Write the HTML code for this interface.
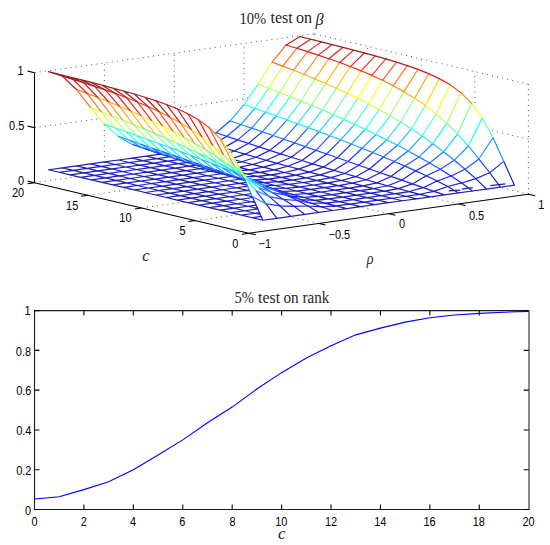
<!DOCTYPE html>
<html><head><meta charset="utf-8"><style>
html,body{margin:0;padding:0;background:#fff;}
body{width:550px;height:545px;overflow:hidden;}
svg{display:block;}
.tk{font-family:"Liberation Sans",sans-serif;font-size:12.3px;fill:#000;}
.ti{font-family:"Liberation Serif",serif;font-size:16px;fill:#262626;}
.it{font-style:italic;}
.lb{font-family:"Liberation Serif",serif;font-size:17px;font-style:italic;fill:#262626;}
</style></head><body>
<svg width="550" height="545" viewBox="0 0 550 545">
<rect width="550" height="545" fill="#fff"/>
<path d="M195.30 220.57L239.16 214.46M141.70 207.95L186.05 201.76M88.10 195.32L131.96 189.21M34.50 182.70L78.85 176.51M318.77 223.45L288.60 216.34M388.65 213.70L358.72 206.65M458.52 203.95L428.35 196.84M528.40 194.20L498.47 187.15M104.37 162.20L104.37 123.70M104.37 86.20L104.37 62.95M174.25 107.95L174.25 53.20M244.12 105.45L244.12 43.45M314.00 40.20L314.00 33.70M34.50 127.70L100.16 118.54M174.99 108.10L249.33 97.72M34.50 72.70L314.00 33.70M528.40 194.20L528.40 84.20M474.80 108.32L474.80 71.57M421.20 70.95L421.20 58.95M367.60 54.08L367.60 46.32M528.40 139.20L488.73 129.86M528.40 84.20L314.00 33.70" stroke="#555" stroke-width="1" stroke-dasharray="1 4.2" fill="none"/>
<g fill="none" stroke-width="1.2" stroke-linecap="round">
<path stroke="#1f1fb9" d="M262.88 220.25L276.85 218.30M262.88 220.25L252.16 217.72M252.16 217.72L261.39 216.44M252.16 217.72L241.44 215.20M241.44 215.20L255.41 213.25M241.44 215.20L230.72 212.67M230.72 212.67L244.69 210.72M230.72 212.67L220.00 210.15M220.00 210.15L233.97 208.20M220.00 210.15L209.28 207.62M209.28 207.62L223.25 205.67M209.28 207.62L198.56 205.10M198.56 205.10L212.53 203.15M198.56 205.10L187.84 202.57M187.84 202.57L201.81 200.62M187.84 202.57L177.12 200.05M177.12 200.05L191.09 198.10M177.12 200.05L166.39 197.52M166.39 197.52L180.37 195.57M166.39 197.52L155.68 195.00M155.68 195.00L169.65 193.05M155.68 195.00L144.95 192.47M144.95 192.47L158.93 190.52M144.95 192.47L134.24 189.95M134.24 189.95L148.21 188.00M134.24 189.95L123.51 187.42M123.51 187.42L137.49 185.47M123.51 187.42L112.80 184.90M112.80 184.90L126.77 182.95M112.80 184.90L102.07 182.37M102.07 182.37L116.05 180.42M102.07 182.37L91.35 179.85M91.35 179.85L105.33 177.90M91.35 179.85L80.63 177.32M80.63 177.32L94.61 175.37M80.63 177.32L69.91 174.80M69.91 174.80L83.89 172.85M69.91 174.80L59.19 172.27M59.19 172.27L73.17 170.32M59.19 172.27L48.47 169.75M48.47 169.75L62.45 167.80M276.85 218.30L290.82 216.35M276.85 218.30L276.12 218.13M260.28 214.40L255.41 213.25M255.41 213.25L259.65 212.66M255.41 213.25L244.69 210.72M244.69 210.72L257.92 208.88M244.69 210.72L233.97 208.20M233.97 208.20L247.94 206.25M233.97 208.20L223.25 205.67M223.25 205.67L237.22 203.72M223.25 205.67L212.53 203.15M212.53 203.15L226.50 201.20M212.53 203.15L201.81 200.62M201.81 200.62L215.78 198.67M201.81 200.62L191.09 198.10M191.09 198.10L205.06 196.15M191.09 198.10L180.37 195.57M180.37 195.57L194.34 193.62M180.37 195.57L169.65 193.05M169.65 193.05L183.62 191.10M169.65 193.05L158.93 190.52M158.93 190.52L172.90 188.57M158.93 190.52L148.21 188.00M148.21 188.00L162.19 186.05M148.21 188.00L137.49 185.47M137.49 185.47L151.46 183.52M137.49 185.47L126.77 182.95M126.77 182.95L140.75 181.00M126.77 182.95L116.05 180.42M116.05 180.42L130.02 178.47M116.05 180.42L105.33 177.90M105.33 177.90L119.30 175.95M105.33 177.90L94.61 175.37M94.61 175.37L108.58 173.42M94.61 175.37L83.89 172.85M83.89 172.85L97.86 170.90M83.89 172.85L73.17 170.32M73.17 170.32L87.14 168.37M73.17 170.32L62.45 167.80M62.45 167.80L76.42 165.85M290.82 216.35L304.80 214.40M290.82 216.35L290.34 216.24M257.93 208.60L247.94 206.25M247.94 206.25L256.43 205.07M247.94 206.25L237.22 203.72M237.22 203.72L251.20 201.77M237.22 203.72L226.50 201.20M226.50 201.20L240.48 199.25M226.50 201.20L215.78 198.67M215.78 198.67L229.76 196.72M215.78 198.67L205.06 196.15M205.06 196.15L219.04 194.20M205.06 196.15L194.34 193.62M194.34 193.62L208.32 191.67M194.34 193.62L183.62 191.10M183.62 191.10L197.60 189.15M183.62 191.10L172.90 188.57M172.90 188.57L186.88 186.62M172.90 188.57L162.19 186.05M162.19 186.05L176.16 184.10M162.19 186.05L151.46 183.52M151.46 183.52L165.44 181.57M151.46 183.52L140.75 181.00M140.75 181.00L154.72 179.05M140.75 181.00L130.02 178.47M130.02 178.47L144.00 176.52M130.02 178.47L119.30 175.95M119.30 175.95L133.28 174.00M119.30 175.95L108.58 173.42M108.58 173.42L122.56 171.47M108.58 173.42L97.86 170.90M97.86 170.90L111.84 168.95M97.86 170.90L87.14 168.37M87.14 168.37L101.12 166.42M87.14 168.37L76.42 165.85M76.42 165.85L90.40 163.90M304.80 214.40L318.77 212.45M304.80 214.40L304.07 214.23M255.34 202.75L251.20 201.77M251.20 201.77L254.69 201.29M251.20 201.77L240.48 199.25M240.48 199.25L252.96 197.51M240.48 199.25L229.76 196.72M229.76 196.72L243.73 194.77M229.76 196.72L219.04 194.20M219.04 194.20L233.01 192.25M219.04 194.20L208.32 191.67M208.32 191.67L222.29 189.72M208.32 191.67L197.60 189.15M197.60 189.15L211.57 187.20M197.60 189.15L186.88 186.62M186.88 186.62L200.85 184.67M186.88 186.62L176.16 184.10M176.16 184.10L190.13 182.15M176.16 184.10L165.44 181.57M165.44 181.57L179.41 179.62M165.44 181.57L154.72 179.05M154.72 179.05L168.69 177.10M154.72 179.05L144.00 176.52M144.00 176.52L157.97 174.57M144.00 176.52L133.28 174.00M133.28 174.00L147.25 172.05M133.28 174.00L122.56 171.47M122.56 171.47L136.53 169.52M122.56 171.47L111.84 168.95M111.84 168.95L125.81 167.00M111.84 168.95L101.12 166.42M101.12 166.42L115.09 164.47M101.12 166.42L90.40 163.90M90.40 163.90L104.37 161.95M318.77 212.45L332.75 210.50M318.77 212.45L317.80 212.22M252.75 196.90L243.73 194.77M243.73 194.77L251.22 193.73M243.73 194.77L233.01 192.25M233.01 192.25L246.99 190.30M233.01 192.25L222.29 189.72M222.29 189.72L236.27 187.77M222.29 189.72L211.57 187.20M211.57 187.20L225.55 185.25M211.57 187.20L200.85 184.67M200.85 184.67L214.83 182.72M200.85 184.67L190.13 182.15M190.13 182.15L204.11 180.20M190.13 182.15L179.41 179.62M179.41 179.62L193.39 177.67M179.41 179.62L168.69 177.10M168.69 177.10L182.67 175.15M168.69 177.10L157.97 174.57M157.97 174.57L171.95 172.62M157.97 174.57L147.25 172.05M147.25 172.05L161.23 170.10M147.25 172.05L136.53 169.52M136.53 169.52L150.51 167.57M136.53 169.52L125.81 167.00M125.81 167.00L139.79 165.05M125.81 167.00L115.09 164.47M115.09 164.47L129.07 162.52M115.09 164.47L104.37 161.95M104.37 161.95L118.35 160.00M332.75 210.50L346.73 208.55M332.75 210.50L330.07 209.87M332.76 206.48L333.76 206.34M334.51 206.23L336.00 206.02M249.91 190.99L246.99 190.30M246.99 190.30L249.49 189.95M246.99 190.30L236.27 187.77M236.27 187.77L247.75 186.17M236.27 187.77L225.55 185.25M225.55 185.25L239.53 183.30M225.55 185.25L214.83 182.72M214.83 182.72L228.81 180.77M214.83 182.72L204.11 180.20M204.11 180.20L218.09 178.25M204.11 180.20L193.39 177.67M193.39 177.67L207.37 175.72M193.39 177.67L182.67 175.15M182.67 175.15L196.65 173.20M182.67 175.15L171.95 172.62M171.95 172.62L185.93 170.67M171.95 172.62L161.23 170.10M161.23 170.10L175.21 168.15M161.23 170.10L150.51 167.57M150.51 167.57L164.49 165.62M150.51 167.57L139.79 165.05M139.79 165.05L153.77 163.10M139.79 165.05L129.07 162.52M129.07 162.52L143.05 160.57M129.07 162.52L118.35 160.00M118.35 160.00L132.33 158.05M346.73 208.55L360.70 206.60M346.73 208.55L336.00 206.02M336.00 206.02L349.98 204.07M336.00 206.02L330.89 204.82M330.40 204.71L329.91 204.59M329.43 204.48L328.94 204.36M328.45 204.25L327.97 204.13M327.23 203.96L326.99 203.90M326.26 203.73L326.02 203.67M325.29 203.50L325.78 203.43M327.28 203.22L328.03 203.12M329.03 202.98L330.03 202.84M330.78 202.73L339.26 201.55M325.29 203.50L325.04 203.44M321.55 200.00L321.80 199.97M323.55 199.72L324.30 199.62M325.30 199.48L328.54 199.02M316.07 196.74L317.32 196.57M247.32 185.14L239.53 183.30M239.53 183.30L246.01 182.39M239.53 183.30L228.81 180.77M228.81 180.77L241.28 179.03M228.81 180.77L218.09 178.25M218.09 178.25L232.06 176.30M218.09 178.25L207.37 175.72M207.37 175.72L221.34 173.77M207.37 175.72L196.65 173.20M196.65 173.20L210.62 171.25M196.65 173.20L185.93 170.67M185.93 170.67L199.90 168.72M185.93 170.67L175.21 168.15M175.21 168.15L189.18 166.20M175.21 168.15L164.49 165.62M164.49 165.62L178.46 163.67M164.49 165.62L153.77 163.10M153.77 163.10L167.74 161.15M153.77 163.10L143.05 160.57M143.05 160.57L157.02 158.62M143.05 160.57L132.33 158.05M132.33 158.05L146.30 156.10M360.70 206.60L374.68 204.65M360.70 206.60L349.98 204.07M349.98 204.07L363.95 202.12M349.98 204.07L339.26 201.55M339.26 201.55L353.24 199.60M339.26 201.55L328.54 199.02M328.54 199.02L342.51 197.07M328.54 199.02L320.26 197.07M319.77 196.96L317.82 196.50M317.82 196.50L319.32 196.29M319.82 196.22L331.80 194.55M317.82 196.50L317.09 196.33M316.60 196.21L316.11 196.10M315.63 195.98L315.14 195.87M314.41 195.70L314.17 195.64M313.43 195.47L313.19 195.41M312.46 195.24L311.97 195.12M311.24 194.95L311.00 194.89M310.27 194.72L310.02 194.66M309.29 194.49L309.05 194.43M307.10 193.97L307.35 193.94M308.85 193.73L309.60 193.63M310.59 193.49L311.59 193.35M312.34 193.24L313.59 193.07M314.09 193.00L321.07 192.02M301.62 190.72L301.87 190.68M303.37 190.47L304.12 190.37M305.11 190.23L306.36 190.06M306.86 189.99L310.36 189.50M294.14 187.74L294.39 187.71M295.89 187.50L296.89 187.36M297.89 187.22L299.63 186.97M286.92 184.73L287.67 184.62M288.67 184.48L288.92 184.45M277.70 181.99L278.19 181.92M232.30 176.36L232.06 176.30M231.57 176.19L221.34 173.77M221.34 173.77L223.09 173.53M221.34 173.77L210.62 171.25M210.62 171.25L214.11 170.76M210.62 171.25L199.90 168.72M199.90 168.72L205.14 167.99M199.90 168.72L189.18 166.20M189.18 166.20L196.42 165.19M189.18 166.20L178.46 163.67M178.46 163.67L187.94 162.35M178.46 163.67L167.74 161.15M167.74 161.15L179.22 159.55M167.74 161.15L157.02 158.62M157.02 158.62L170.25 156.78M157.02 158.62L146.30 156.10M146.30 156.10L160.28 154.15M374.68 204.65L388.65 202.70M374.68 204.65L363.95 202.12M363.95 202.12L377.93 200.17M363.95 202.12L353.24 199.60M353.24 199.60L367.21 197.65M353.24 199.60L342.51 197.07M342.51 197.07L356.49 195.12M342.51 197.07L331.80 194.55M331.80 194.55L345.77 192.60M331.80 194.55L321.07 192.02M321.07 192.02L335.05 190.07M321.07 192.02L310.36 189.50M310.36 189.50L324.33 187.55M310.36 189.50L299.63 186.97M299.63 186.97L313.61 185.02M299.63 186.97L292.57 185.31M292.08 185.20L291.60 185.08M291.11 184.97L289.40 184.56M288.92 184.45L289.91 184.31M290.41 184.24L302.89 182.50M288.92 184.45L288.43 184.34M287.94 184.22L287.45 184.11M286.97 183.99L286.48 183.88M285.75 183.70L285.26 183.59M284.77 183.47L284.29 183.36M283.80 183.24L283.31 183.13M282.58 182.96L282.34 182.90M281.61 182.73L281.12 182.61M280.63 182.50L280.14 182.38M279.41 182.21L279.17 182.15M278.44 181.98L278.19 181.92M278.19 181.92L278.44 181.89M279.69 181.72L280.44 181.61M281.44 181.47L282.69 181.30M283.19 181.23L292.17 179.97M277.22 181.70L276.98 181.64M276.25 181.47L276.00 181.41M275.27 181.24L275.03 181.18M272.10 180.49L271.86 180.43M268.72 179.23L268.97 179.19M270.47 178.98L271.22 178.88M272.22 178.74L273.21 178.60M273.96 178.49L275.46 178.29M275.96 178.22L281.45 177.45M261.25 176.25L261.75 176.18M263.24 175.97L264.24 175.83M264.99 175.73L270.73 174.92M252.27 173.48L252.52 173.44M254.02 173.24L255.27 173.06M255.77 172.99L260.01 172.40M243.05 170.75L243.55 170.68M245.05 170.47L249.29 169.87M167.58 155.87L160.28 154.15M160.28 154.15L161.52 153.98M388.65 202.70L402.62 200.75M388.65 202.70L377.93 200.17M377.93 200.17L391.90 198.22M377.93 200.17L367.21 197.65M367.21 197.65L381.19 195.70M367.21 197.65L356.49 195.12M356.49 195.12L370.47 193.16M356.49 195.12L345.77 192.60M345.77 192.60L359.75 190.62M345.77 192.60L335.05 190.07M335.05 190.07L349.02 188.08M335.05 190.07L324.33 187.55M324.33 187.55L338.31 185.52M324.33 187.55L313.61 185.02M313.61 185.02L327.59 182.95M313.61 185.02L302.89 182.50M302.89 182.50L316.87 180.36M302.89 182.50L292.17 179.97M292.17 179.97L306.14 177.76M292.17 179.97L281.45 177.45M281.45 177.45L295.43 175.14M281.45 177.45L270.73 174.92M270.73 174.92L284.70 172.51M270.73 174.92L260.01 172.40M260.01 172.40L273.99 169.85M260.01 172.40L249.29 169.87M249.29 169.87L263.26 167.17M249.29 169.87L238.81 167.41M238.82 167.30L252.55 164.47M236.19 162.99L241.82 161.75M402.62 200.75L416.60 198.80M402.62 200.75L391.90 198.22M391.90 198.22L405.88 196.27M391.90 198.22L381.19 195.70M381.19 195.70L395.16 193.71M381.19 195.70L370.47 193.16M370.47 193.16L384.44 191.13M370.47 193.16L359.75 190.62M359.75 190.62L373.72 188.51M359.75 190.62L349.02 188.08M349.02 188.08L363.00 185.87M349.02 188.08L338.31 185.52M338.31 185.52L352.28 183.18M338.31 185.52L327.59 182.95M327.59 182.95L341.56 180.46M327.59 182.95L316.87 180.36M316.87 180.36L330.84 177.70M316.87 180.36L306.14 177.76M306.14 177.76L320.12 174.90M306.14 177.76L295.43 175.14M295.43 175.14L309.40 172.06M295.43 175.14L284.70 172.51M284.70 172.51L298.68 169.18M284.70 172.51L273.99 169.85M273.99 169.85L287.96 166.26M273.99 169.85L263.26 167.17M263.26 167.17L277.24 163.30M263.26 167.17L252.55 164.47M252.55 164.47L266.52 160.30M252.55 164.47L241.82 161.75M416.60 198.80L430.58 196.85M416.60 198.80L405.88 196.27M405.88 196.27L419.86 194.24M405.88 196.27L395.16 193.71M395.16 193.71L409.14 191.50M395.16 193.71L384.44 191.13M384.44 191.13L398.42 188.67M384.44 191.13L373.72 188.51M373.72 188.51L387.70 185.77M373.72 188.51L363.00 185.87M363.00 185.87L376.98 182.80M363.00 185.87L352.28 183.18M352.28 183.18L366.26 179.77M352.28 183.18L341.56 180.46M341.56 180.46L355.54 176.68M341.56 180.46L330.84 177.70M330.84 177.70L344.82 173.54M330.84 177.70L320.12 174.90M430.58 196.85L444.55 194.90M430.58 196.85L419.86 194.24M419.86 194.24L433.83 191.37M419.86 194.24L409.14 191.50M409.14 191.50L423.11 187.67M409.14 191.50L398.42 188.67M398.42 188.67L412.39 183.94M398.42 188.67L387.70 185.77M444.55 194.90L458.52 192.95M444.55 194.90L433.83 191.37M458.52 192.95L472.50 191.00M458.52 192.95L447.80 186.50M472.50 191.00L486.48 189.05M472.50 191.00L461.78 182.95M486.48 189.05L500.45 187.10M486.48 189.05L475.75 178.66M500.45 187.10L514.42 185.15M500.45 187.10L489.73 172.75M514.42 185.15L503.70 161.35M262.88 220.25L276.85 218.30M262.88 220.25L252.16 196.45M276.85 218.30L290.82 216.35M276.85 218.30L266.13 203.95M290.82 216.35L304.80 214.40M290.82 216.35L280.10 205.96M304.80 214.40L318.77 212.45M304.80 214.40L294.08 206.35M318.77 212.45L332.75 210.50M318.77 212.45L308.05 206.00M332.75 210.50L346.73 208.55M332.75 210.50L322.03 206.97M346.73 208.55L360.70 206.60M346.73 208.55L336.00 205.94M336.00 205.94L349.98 204.07M336.00 205.94L325.29 203.20M325.29 203.20L339.26 201.51M325.29 203.20L314.57 200.37M314.57 200.37L328.54 198.93M314.57 200.37L303.85 197.47M360.70 206.60L374.68 204.65M360.70 206.60L349.98 204.07M349.98 204.07L363.95 202.12M349.98 204.07L339.26 201.51M339.26 201.51L353.24 199.60M339.26 201.51L328.54 198.93M328.54 198.93L342.51 197.06M328.54 198.93L317.82 196.31M317.82 196.31L331.80 194.52M317.82 196.31L307.10 193.67M307.10 193.67L321.07 191.98M307.10 193.67L296.38 190.98M296.38 190.98L310.36 189.42M296.38 190.98L285.66 188.26M285.66 188.26L299.63 186.85M285.66 188.26L274.94 185.50M274.94 185.50L288.92 184.26M274.94 185.50L264.22 182.70M374.68 204.65L388.65 202.70M374.68 204.65L363.95 202.12M363.95 202.12L377.93 200.17M363.95 202.12L353.24 199.60M353.24 199.60L367.21 197.65M353.24 199.60L342.51 197.06M342.51 197.06L356.49 195.12M342.51 197.06L331.80 194.52M331.80 194.52L345.77 192.60M331.80 194.52L321.07 191.98M321.07 191.98L335.05 190.07M321.07 191.98L310.36 189.42M310.36 189.42L324.33 187.55M310.36 189.42L299.63 186.85M299.63 186.85L313.61 185.02M299.63 186.85L288.92 184.26M288.92 184.26L302.89 182.50M288.92 184.26L278.19 181.66M278.19 181.66L292.17 179.97M278.19 181.66L267.48 179.04M267.48 179.04L281.45 177.45M267.48 179.04L256.75 176.41M256.75 176.41L270.73 174.92M256.75 176.41L246.04 173.75M246.04 173.75L260.01 172.40M246.04 173.75L241.89 172.72M240.56 170.62L249.29 169.87M388.65 202.70L402.62 200.75M388.65 202.70L377.93 200.17M377.93 200.17L391.90 198.22M377.93 200.17L367.21 197.65M367.21 197.65L381.19 195.70M367.21 197.65L356.49 195.12M356.49 195.12L370.47 193.17M356.49 195.12L345.77 192.60M345.77 192.60L359.75 190.65M345.77 192.60L335.05 190.07M335.05 190.07L349.02 188.12M335.05 190.07L324.33 187.55M324.33 187.55L338.31 185.60M324.33 187.55L313.61 185.02M313.61 185.02L327.59 183.07M313.61 185.02L302.89 182.50M302.89 182.50L313.37 181.04M313.87 180.97L315.12 180.79M315.62 180.72L316.87 180.55M302.89 182.50L292.17 179.97M292.17 179.97L300.65 178.79M301.15 178.72L302.15 178.58M302.90 178.48L303.90 178.34M304.65 178.23L305.40 178.13M292.17 179.97L281.45 177.45M281.45 177.45L287.94 176.54M288.44 176.47L289.44 176.34M290.18 176.23L290.93 176.13M291.93 175.99L292.43 175.92M293.68 175.74L293.93 175.71M281.45 177.45L270.73 174.92M270.73 174.92L276.72 174.09M277.47 173.98L278.22 173.88M279.21 173.74L279.71 173.67M270.73 174.92L260.01 172.40M260.01 172.40L264.25 171.81M264.75 171.74L265.50 171.63M266.50 171.49L267.00 171.42M260.01 172.40L249.29 169.87M249.29 169.87L253.03 169.35M253.78 169.25L254.53 169.14M249.29 169.87L238.81 167.41M238.82 167.32L240.82 167.04M241.32 166.97L242.06 166.86M243.06 166.72L243.31 166.69M402.62 200.75L416.60 198.80M402.62 200.75L391.90 198.22M391.90 198.22L405.88 196.27M391.90 198.22L381.19 195.70M381.19 195.70L395.16 193.75M381.19 195.70L370.47 193.17M370.47 193.17L384.44 191.22M370.47 193.17L359.75 190.65M359.75 190.65L371.22 189.05M371.72 188.98L372.97 188.80M373.47 188.73L373.72 188.70M359.75 190.65L349.02 188.12M349.02 188.12L355.01 187.29M355.51 187.22L356.51 187.08M357.26 186.98L358.26 186.84M359.01 186.73L359.76 186.63M360.75 186.49L361.25 186.42M362.50 186.24L362.75 186.21M349.02 188.12L338.31 185.60M338.31 185.60L340.55 185.29M341.05 185.22L342.05 185.08M342.80 184.97L343.55 184.87M344.54 184.73L345.04 184.66M346.29 184.49L346.54 184.45M338.31 185.60L327.59 183.07M327.59 183.07L329.33 182.83M330.08 182.73L330.83 182.62M331.83 182.48L332.08 182.45M327.59 183.07L325.39 182.56M324.91 182.44L322.23 181.81M321.74 181.70L321.25 181.58M320.76 181.47L319.06 181.07M318.57 180.95L318.08 180.84M317.60 180.72L316.87 180.55M317.36 180.48L318.11 180.38M319.11 180.24L319.36 180.20M316.87 180.55L315.89 180.32M315.40 180.21L314.92 180.09M314.43 179.98L313.94 179.86M313.45 179.75L312.97 179.63M312.24 179.46L311.75 179.34M311.26 179.23L310.77 179.12M310.04 178.94L309.80 178.89M309.07 178.71L308.82 178.66M308.09 178.48L307.61 178.37M306.88 178.20L306.63 178.14M306.39 177.99L306.89 177.92M305.90 177.97L305.66 177.91M304.93 177.74L304.68 177.68M302.73 177.22L302.49 177.16M301.76 176.99L301.52 176.93M416.60 198.80L430.58 196.85M416.60 198.80L405.88 196.27M405.88 196.27L419.86 194.32M405.88 196.27L395.16 193.75M395.16 193.75L401.90 192.81M402.40 192.74L403.64 192.57M404.14 192.50L405.14 192.36M406.14 192.22L406.64 192.15M407.89 191.97L408.39 191.90M395.16 193.75L384.44 191.22M384.44 191.22L387.19 190.84M387.93 190.74L388.68 190.63M389.68 190.49L390.18 190.42M384.44 191.22L377.37 189.56M376.89 189.45L376.40 189.33M375.91 189.22L374.21 188.81M373.72 188.70L374.47 188.60M375.22 188.49L375.72 188.42M373.72 188.70L373.23 188.59M372.75 188.47L372.26 188.36M371.77 188.24L371.28 188.13M370.55 187.95L370.31 187.90M369.58 187.72L369.09 187.61M368.60 187.49L368.12 187.38M367.39 187.21L367.14 187.15M366.41 186.98L366.17 186.92M365.44 186.75L365.19 186.69M430.58 196.85L444.55 194.90M430.58 196.85L419.86 194.32M419.86 194.32L421.60 194.08M422.35 193.98L422.85 193.91M419.86 194.32L414.50 193.06M414.01 192.95L413.52 192.83M413.03 192.72L412.55 192.60M412.06 192.49L411.57 192.37M410.84 192.20L410.60 192.14M409.87 191.97L409.62 191.91M408.89 191.74L408.65 191.69M444.55 194.90L458.52 192.95M444.55 194.90L442.36 194.38M458.52 192.95L472.50 191.00M458.52 192.95L457.55 192.72M472.50 191.00L486.48 189.05M472.50 191.00L471.53 190.77M486.48 189.05L500.45 187.10M486.48 189.05L485.99 188.94M500.45 187.10L514.42 185.15M500.45 187.10L500.21 187.04M514.42 185.15L513.94 185.04"/>
<path stroke="#1f1fc7" d="M241.82 161.75L255.80 157.26M241.82 161.75L234.27 159.81M233.47 158.18L245.08 154.17M230.10 152.62L234.36 151.03M320.12 174.90L334.10 170.36M320.12 174.90L309.40 172.06M309.40 172.06L323.38 167.13M309.40 172.06L298.68 169.18M298.68 169.18L312.66 163.86M298.68 169.18L287.96 166.26M287.96 166.26L301.94 160.55M287.96 166.26L277.24 163.30M387.70 185.77L401.67 180.19M387.70 185.77L376.98 182.80M376.98 182.80L390.95 176.44M376.98 182.80L366.26 179.77M366.26 179.77L380.23 172.70M366.26 179.77L355.54 176.68M355.54 176.68L369.51 168.96M355.54 176.68L344.82 173.54M433.83 191.37L447.80 186.50M433.83 191.37L423.11 187.67M423.11 187.67L437.08 180.99M423.11 187.67L412.39 183.94M322.03 206.97L336.00 205.94M322.03 206.97L311.31 203.27M311.31 203.27L325.29 203.20M311.31 203.27L300.59 199.54M303.85 197.47L317.82 196.31M303.85 197.47L293.12 194.50M293.12 194.50L307.10 193.67M293.12 194.50L282.41 191.47M282.41 191.47L296.38 190.98M282.41 191.47L271.69 188.38M271.69 188.38L285.66 188.26M271.69 188.38L269.01 187.60M268.52 187.45L268.27 187.38M264.22 182.70L278.19 181.66M264.22 182.70L253.50 179.86M253.50 179.86L267.48 179.04M253.50 179.86L248.87 178.62M245.58 176.87L256.75 176.41M242.73 173.82L246.04 173.75"/>
<path stroke="#1f1fd5" d="M277.24 163.30L291.22 157.20M277.24 163.30L266.52 160.30M266.52 160.30L280.50 153.81M266.52 160.30L255.80 157.26M255.80 157.26L269.78 150.38M255.80 157.26L245.08 154.17M344.82 173.54L358.79 165.22M344.82 173.54L334.10 170.36M334.10 170.36L348.07 161.49M334.10 170.36L323.38 167.13M412.39 183.94L426.37 175.82M412.39 183.94L401.67 180.19M447.80 186.50L461.78 182.95M447.80 186.50L437.08 180.99M308.05 206.00L322.03 206.97M308.05 206.00L297.33 200.49M300.59 199.54L314.57 200.37M300.59 199.54L289.87 195.79M263.76 185.30L274.94 185.50M257.11 182.37L264.22 182.70M245.37 180.59L239.53 178.83"/>
<path stroke="#1f1fe3" d="M245.08 154.17L259.06 146.92M245.08 154.17L234.36 151.03M234.36 151.03L248.34 143.42M234.36 151.03L227.29 148.94M225.82 146.61L237.62 139.89M323.38 167.13L337.35 157.76M323.38 167.13L312.66 163.86M312.66 163.86L326.63 154.04M312.66 163.86L301.94 160.55M401.67 180.19L415.64 170.87M401.67 180.19L390.95 176.44M461.78 182.95L475.75 178.66M461.78 182.95L451.06 175.94M294.08 206.35L308.05 206.00M294.08 206.35L283.36 199.34M289.87 195.79L303.85 197.47M289.87 195.79L283.68 193.63M283.20 193.46L282.96 193.38M282.49 193.21L281.53 192.88M281.06 192.71L280.82 192.63M239.53 178.83L240.52 178.91M250.75 179.66L253.50 179.86M239.53 178.83L228.81 175.56M228.81 175.56L229.80 175.66M228.81 175.56L218.09 172.25M161.65 153.83L161.41 153.75M160.92 153.61L160.67 153.53M160.19 153.39L159.94 153.31M159.46 153.17L157.02 152.44"/>
<path stroke="#1f1ff1" d="M220.88 139.90L226.90 136.32M214.89 133.53L216.18 132.73M301.94 160.55L315.91 150.33M301.94 160.55L291.22 157.20M291.22 157.20L305.19 146.62M291.22 157.20L280.50 153.81M390.95 176.44L404.92 166.10M390.95 176.44L380.23 172.70M380.23 172.70L394.20 161.47M380.23 172.70L369.51 168.96M437.08 180.99L451.06 175.94M437.08 180.99L426.37 175.82M297.33 200.49L311.31 203.27M297.33 200.49L286.62 195.32M279.65 192.13L293.12 194.50M272.35 189.19L282.41 191.47M218.09 172.25L219.33 172.41M218.09 172.25L207.37 168.90M207.37 168.90L209.11 169.17M209.61 169.25L209.86 169.29M207.37 168.90L196.65 165.51M157.52 152.51L157.77 152.54M157.02 152.44L146.30 149.17M146.30 149.17L147.80 149.43M148.30 149.52L148.55 149.56"/>
<path stroke="#1f1fff" d="M280.50 153.81L294.47 142.92M280.50 153.81L269.78 150.38M269.78 150.38L283.75 139.22M269.78 150.38L259.06 146.92M369.51 168.96L383.49 156.96M369.51 168.96L358.79 165.22M475.75 178.66L489.73 172.75M475.75 178.66L465.04 169.28M280.10 205.96L294.08 206.35M280.10 205.96L269.38 196.58M269.72 187.84L271.69 188.38M196.65 165.51L198.64 165.88M199.39 166.02L199.64 166.06M196.65 165.51L185.93 162.08M185.93 162.08L188.62 162.65M189.11 162.76L189.36 162.81M185.93 162.08L175.21 158.62"/>
<path stroke="#1f2dff" d="M259.06 146.92L273.03 135.53M259.06 146.92L248.34 143.42M248.34 143.42L262.31 131.85M248.34 143.42L237.62 139.89M358.79 165.22L372.76 152.55M358.79 165.22L348.07 161.49M426.37 175.82L440.34 169.31M426.37 175.82L415.64 170.87M451.06 175.94L465.04 169.28M451.06 175.94L440.34 169.31M283.36 199.34L297.33 200.49M283.36 199.34L272.64 192.71M286.62 195.32L300.59 199.54M286.62 195.32L275.89 190.37M245.08 180.16L236.27 177.09M175.21 158.62L178.39 159.38M175.21 158.62L164.49 155.12M164.49 155.12L168.41 156.16M168.90 156.29L169.14 156.36M164.49 155.12L153.77 151.59"/>
<path stroke="#1f3bff" d="M237.62 139.89L251.59 128.16M237.62 139.89L226.90 136.32M348.07 161.49L362.04 148.22M348.07 161.49L337.35 157.76M337.35 157.76L351.32 143.98M337.35 157.76L326.63 154.04M415.64 170.87L429.62 162.97M415.64 170.87L404.92 166.10M489.73 172.75L503.70 161.35M489.73 172.75L479.01 159.02M266.13 203.95L280.10 205.96M266.13 203.95L255.41 190.22M275.89 190.37L289.87 195.79M275.89 190.37L265.17 185.60M236.27 177.09L245.03 180.21M236.27 177.09L225.55 173.36M225.55 173.36L239.53 178.83M225.55 173.36L214.83 169.64M153.77 151.59L160.03 153.41M160.51 153.55L161.72 153.90M162.20 154.04L162.44 154.11M162.92 154.25L163.16 154.32M153.77 151.59L143.05 148.02"/>
<path stroke="#1f49ff" d="M226.90 136.32L240.87 124.49M226.90 136.32L216.18 132.73M216.18 132.73L230.15 120.82M326.63 154.04L340.60 139.80M326.63 154.04L315.91 150.33M214.83 169.64L228.81 175.56M214.83 169.64L204.11 165.93M143.05 148.02L157.02 152.44M143.05 148.02L132.33 144.43M132.33 144.43L146.30 149.17"/>
<path stroke="#1f57ff" d="M315.91 150.33L329.88 135.69M315.91 150.33L305.19 146.62M404.92 166.10L418.90 156.88M404.92 166.10L394.20 161.47M440.34 169.31L454.32 160.30M440.34 169.31L429.62 162.97M465.04 169.28L479.01 159.02M465.04 169.28L454.32 160.30M269.38 196.58L283.36 199.34M269.38 196.58L258.66 187.60M272.64 192.71L286.62 195.32M272.64 192.71L261.92 186.37M265.17 185.60L277.78 191.41M265.17 185.60L254.45 180.97M204.11 165.93L218.09 172.25M204.11 165.93L193.39 162.22"/>
<path stroke="#1f65ff" d="M305.19 146.62L319.16 131.64M305.19 146.62L294.47 142.92M294.47 142.92L308.44 127.64M294.47 142.92L283.75 139.22M394.20 161.47L408.18 151.01M394.20 161.47L383.49 156.96M254.45 180.97L256.67 182.13M257.12 182.37L258.23 182.95M254.45 180.97L248.86 178.62M247.93 178.22L247.70 178.13M246.76 177.73L246.53 177.64M193.39 162.22L207.37 168.90M193.39 162.22L182.67 158.52M182.67 158.52L196.65 165.51M182.67 158.52L171.95 154.82"/>
<path stroke="#1f73ff" d="M283.75 139.22L297.72 123.70M283.75 139.22L273.03 135.53M383.49 156.96L397.46 145.33M383.49 156.96L372.76 152.55M429.62 162.97L443.60 151.77M429.62 162.97L418.90 156.88M261.92 186.37L275.89 190.37M261.92 186.37L251.20 180.28M243.27 176.27L233.01 172.05M171.95 154.82L185.93 162.08M171.95 154.82L161.23 151.13"/>
<path stroke="#1f81ff" d="M273.03 135.53L287.00 119.80M273.03 135.53L262.31 131.85M262.31 131.85L276.28 115.94M262.31 131.85L251.59 128.16M372.76 152.55L386.74 139.84M372.76 152.55L362.04 148.22M233.01 172.05L244.66 179.36M233.01 172.05L222.29 167.72M161.23 151.13L175.21 158.62M161.23 151.13L150.51 147.45M150.51 147.45L164.49 155.12M150.51 147.45L139.79 143.76"/>
<path stroke="#1f8fff" d="M251.59 128.16L265.56 112.13M251.59 128.16L240.87 124.49M418.90 156.88L432.88 143.69M418.90 156.88L408.18 151.01M454.32 160.30L468.29 145.97M454.32 160.30L443.60 151.77M503.70 161.35L492.98 137.56M252.16 196.45L266.13 203.95M252.16 196.45L241.44 172.66M258.66 187.60L272.64 192.71M258.66 187.60L247.94 179.07M251.20 180.28L265.17 185.60M251.20 180.28L247.85 178.44M243.16 175.87L240.48 174.41M139.79 143.76L153.77 151.59M139.79 143.76L129.07 140.09"/>
<path stroke="#1f9dff" d="M240.87 124.49L254.84 108.36M240.87 124.49L230.15 120.82M362.04 148.22L376.02 134.51M362.04 148.22L351.32 143.98M479.01 159.02L492.98 137.56M479.01 159.02L468.29 145.97M255.41 190.22L269.38 196.58M255.41 190.22L245.33 177.95M245.01 177.56L244.69 177.17M222.29 167.72L236.27 177.09M222.29 167.72L211.57 163.48M129.07 140.09L143.05 148.02M129.07 140.09L118.35 136.42"/>
<path stroke="#1fabff" d="M230.15 120.82L244.12 104.62M351.32 143.98L365.30 129.34M351.32 143.98L340.60 139.80M408.18 151.01L422.16 136.05M408.18 151.01L397.46 145.33M240.48 174.41L243.23 175.70M244.83 176.45L254.45 180.97M240.48 174.41L229.76 168.73M211.57 163.48L225.55 173.36M211.57 163.48L200.85 159.30M118.35 136.42L132.33 144.43"/>
<path stroke="#1fb9ff" d="M340.60 139.80L354.58 124.31M340.60 139.80L329.88 135.69M200.85 159.30L214.83 169.64M200.85 159.30L190.13 155.19"/>
<path stroke="#1fc7ff" d="M329.88 135.69L343.86 119.41M329.88 135.69L319.16 131.64M397.46 145.33L411.44 128.86M397.46 145.33L386.74 139.84M443.60 151.77L457.57 134.05M443.60 151.77L432.88 143.69M247.94 179.07L261.92 186.37M247.94 179.07L246.12 177.69M242.89 175.26L237.22 170.99M229.76 168.73L243.07 176.09M229.76 168.73L219.04 163.24M190.13 155.19L204.11 165.93M190.13 155.19L179.41 151.14"/>
<path stroke="#1fd5ff" d="M319.16 131.64L333.14 114.64M319.16 131.64L308.44 127.64M179.41 151.14L193.39 162.22M179.41 151.14L168.69 147.14"/>
<path stroke="#1fe3ff" d="M308.44 127.64L322.42 109.98M308.44 127.64L297.72 123.70M297.72 123.70L311.70 105.43M297.72 123.70L287.00 119.80M386.74 139.84L400.72 122.06M386.74 139.84L376.02 134.51M219.04 163.24L233.01 172.05M219.04 163.24L208.32 157.91M168.69 147.14L182.67 158.52M168.69 147.14L157.97 143.20M157.97 143.20L171.95 154.82M157.97 143.20L147.25 139.30"/>
<path stroke="#1ff1ff" d="M287.00 119.80L300.98 100.99M287.00 119.80L276.28 115.94M432.88 143.69L446.85 123.38M432.88 143.69L422.16 136.05M237.22 170.99L241.81 174.04M243.90 175.42L251.20 180.28M237.22 170.99L226.50 163.35M147.25 139.30L161.23 151.13M147.25 139.30L136.53 135.44"/>
<path stroke="#1fffff" d="M276.28 115.94L290.26 96.63M276.28 115.94L265.56 112.13M376.02 134.51L390.00 115.65M376.02 134.51L365.30 129.34M468.29 145.97L482.26 117.88M468.29 145.97L457.57 134.05M244.69 177.17L258.66 187.60M244.69 177.17L244.36 176.80M244.02 176.43L243.85 176.24M242.85 175.12L233.97 165.25M208.32 157.91L222.29 167.72M208.32 157.91L197.60 152.74M136.53 135.44L150.51 147.45M136.53 135.44L125.81 131.63"/>
<path stroke="#2dfff1" d="M265.56 112.13L279.54 92.37M265.56 112.13L254.84 108.36M125.81 131.63L139.79 143.76M125.81 131.63L115.09 127.86"/>
<path stroke="#3bffe3" d="M254.84 108.36L268.82 88.19M254.84 108.36L244.12 104.62M244.12 104.62L258.10 84.09M365.30 129.34L379.28 109.58M365.30 129.34L354.58 124.31M422.16 136.05L436.13 113.95M422.16 136.05L411.44 128.86M226.50 163.35L240.48 174.41M226.50 163.35L215.78 156.16M197.60 152.74L211.57 163.48M197.60 152.74L186.88 147.71M115.09 127.86L129.07 140.09M115.09 127.86L104.37 124.12M104.37 124.12L118.35 136.42"/>
<path stroke="#49ffd5" d="M354.58 124.31L368.56 103.83M354.58 124.31L343.86 119.41M186.88 147.71L200.85 159.30M186.88 147.71L176.16 142.81"/>
<path stroke="#65ffb9" d="M343.86 119.41L357.84 98.37M343.86 119.41L333.14 114.64M411.44 128.86L425.41 105.61M411.44 128.86L400.72 122.06M492.98 137.56L482.26 117.88M241.44 172.66L255.41 190.22M241.44 172.66L230.72 152.98M215.78 156.16L229.76 168.73M215.78 156.16L205.06 149.36M176.16 142.81L190.13 155.19M176.16 142.81L165.44 138.04"/>
<path stroke="#73ffab" d="M333.14 114.64L347.12 93.16M333.14 114.64L322.42 109.98M457.57 134.05L471.54 103.25M457.57 134.05L446.85 123.38M233.97 165.25L238.09 169.32M242.03 173.22L247.94 179.07M233.97 165.25L223.25 154.58M165.44 138.04L179.41 151.14M165.44 138.04L154.72 133.38"/>
<path stroke="#81ff9d" d="M322.42 109.98L336.40 88.19M322.42 109.98L311.70 105.43M154.72 133.38L168.69 147.14M154.72 133.38L144.00 128.83"/>
<path stroke="#9dff81" d="M311.70 105.43L325.68 83.43M311.70 105.43L300.98 100.99M144.00 128.83L157.97 143.20M144.00 128.83L133.28 124.39"/>
<path stroke="#abff73" d="M300.98 100.99L314.96 78.86M300.98 100.99L290.26 96.63M390.00 115.65L403.97 91.64M390.00 115.65L379.28 109.58M194.34 142.95L208.32 157.91M194.34 142.95L183.62 136.88M133.28 124.39L147.25 139.30M133.28 124.39L122.56 120.03"/>
<path stroke="#b9ff65" d="M290.26 96.63L304.24 74.47M290.26 96.63L279.54 92.37M446.85 123.38L460.82 92.63M446.85 123.38L436.13 113.95M223.25 154.58L237.22 170.99M223.25 154.58L212.53 145.15M122.56 120.03L136.53 135.44M122.56 120.03L111.84 115.77"/>
<path stroke="#c7ff57" d="M279.54 92.37L293.51 70.22M279.54 92.37L268.82 88.19M111.84 115.77L125.81 131.63M111.84 115.77L101.12 111.59"/>
<path stroke="#d5ff49" d="M268.82 88.19L282.80 66.12M268.82 88.19L258.10 84.09M379.28 109.58L393.25 85.71M379.28 109.58L368.56 103.83M183.62 136.88L197.60 152.74M183.62 136.88L172.90 131.13M101.12 111.59L115.09 127.86M101.12 111.59L90.40 107.49"/>
<path stroke="#e3ff3b" d="M258.10 84.09L272.08 62.15M90.40 107.49L104.37 124.12"/>
<path stroke="#8fff8f" d="M400.72 122.06L414.69 98.23M400.72 122.06L390.00 115.65M205.06 149.36L219.04 163.24M205.06 149.36L194.34 142.95"/>
<path stroke="#f1ff2d" d="M368.56 103.83L382.53 80.33M368.56 103.83L357.84 98.37M436.13 113.95L450.10 84.74M436.13 113.95L425.41 105.61M212.53 145.15L226.50 163.35M212.53 145.15L201.81 136.81M172.90 131.13L186.88 147.71M172.90 131.13L162.19 125.67"/>
<path stroke="#ffff1f" d="M357.84 98.37L371.81 75.39M357.84 98.37L347.12 93.16M482.26 117.88L471.54 103.25M230.72 152.98L244.69 177.17M230.72 152.98L220.00 138.35M162.19 125.67L176.16 142.81M162.19 125.67L151.46 120.46"/>
<path stroke="#ffe31f" d="M347.12 93.16L361.09 70.82M347.12 93.16L336.40 88.19M151.46 120.46L165.44 138.04M151.46 120.46L140.75 115.49"/>
<path stroke="#ffc71f" d="M336.40 88.19L350.37 66.56M336.40 88.19L325.68 83.43M140.75 115.49L154.72 133.38M140.75 115.49L130.02 110.73"/>
<path stroke="#ffb91f" d="M325.68 83.43L339.65 62.55M325.68 83.43L314.96 78.86M130.02 110.73L144.00 128.83M130.02 110.73L119.30 106.16"/>
<path stroke="#ffab1f" d="M314.96 78.86L328.93 58.74M314.96 78.86L304.24 74.47M414.69 98.23L428.66 73.62M414.69 98.23L403.97 91.64M191.09 129.43L205.06 149.36M191.09 129.43L180.37 122.84M119.30 106.16L133.28 124.39M119.30 106.16L108.58 101.77"/>
<path stroke="#ff9d1f" d="M304.24 74.47L318.21 55.11M304.24 74.47L293.51 70.22M108.58 101.77L122.56 120.03M108.58 101.77L97.86 97.52"/>
<path stroke="#ff811f" d="M293.51 70.22L307.49 51.62M293.51 70.22L282.80 66.12M97.86 97.52L111.84 115.77M97.86 97.52L87.14 93.42"/>
<path stroke="#ff731f" d="M282.80 66.12L296.77 48.26M282.80 66.12L272.08 62.15M272.08 62.15L286.05 45.00M393.25 85.71L407.22 65.59M393.25 85.71L382.53 80.33M169.65 116.91L183.62 136.88M169.65 116.91L158.93 111.53M87.14 93.42L101.12 111.59M87.14 93.42L76.42 89.45M76.42 89.45L90.40 107.49"/>
<path stroke="#ffd51f" d="M425.41 105.61L439.38 78.61M425.41 105.61L414.69 98.23M201.81 136.81L215.78 156.16M201.81 136.81L191.09 129.43"/>
<path stroke="#ff8f1f" d="M403.97 91.64L417.94 69.36M403.97 91.64L393.25 85.71M471.54 103.25L460.82 92.63M220.00 138.35L233.97 165.25M220.00 138.35L209.28 127.73M180.37 122.84L194.34 142.95M180.37 122.84L169.65 116.91"/>
<path stroke="#ff571f" d="M382.53 80.33L396.50 62.15M382.53 80.33L371.81 75.39M158.93 111.53L172.90 131.13M158.93 111.53L148.21 106.59"/>
<path stroke="#ff3b1f" d="M371.81 75.39L385.78 58.93M371.81 75.39L361.09 70.82M148.21 106.59L162.19 125.67M148.21 106.59L137.49 102.02"/>
<path stroke="#ff2d1f" d="M361.09 70.82L375.06 55.88M361.09 70.82L350.37 66.56M137.49 102.02L151.46 120.46M137.49 102.02L126.77 97.76"/>
<path stroke="#ff1f1f" d="M350.37 66.56L364.34 52.95M350.37 66.56L339.65 62.55M450.10 84.74L439.38 78.61M198.56 119.84L212.53 145.15M198.56 119.84L187.84 113.71M126.77 97.76L140.75 115.49M126.77 97.76L116.05 93.75"/>
<path stroke="#f11f1f" d="M339.65 62.55L353.62 50.10M339.65 62.55L328.93 58.74M116.05 93.75L130.02 110.73M116.05 93.75L105.33 89.94"/>
<path stroke="#e31f1f" d="M328.93 58.74L342.90 47.31M328.93 58.74L318.21 55.11M318.21 55.11L332.18 44.58M318.21 55.11L307.49 51.62M439.38 78.61L428.66 73.62M187.84 113.71L201.81 136.81M187.84 113.71L177.12 108.72M105.33 89.94L119.30 106.16M105.33 89.94L94.61 86.31M94.61 86.31L108.58 101.77M94.61 86.31L83.89 82.82"/>
<path stroke="#d51f1f" d="M307.49 51.62L321.46 41.88M307.49 51.62L296.77 48.26M296.77 48.26L310.74 39.21M296.77 48.26L286.05 45.00M83.89 82.82L97.86 97.52M83.89 82.82L73.17 79.46M73.17 79.46L87.14 93.42M73.17 79.46L62.45 76.20"/>
<path stroke="#c71f1f" d="M286.05 45.00L300.02 36.57M428.66 73.62L417.94 69.36M177.12 108.72L191.09 129.43M177.12 108.72L166.39 104.46M62.45 76.20L76.42 89.45"/>
<path stroke="#ff491f" d="M460.82 92.63L450.10 84.74M209.28 127.73L223.25 154.58M209.28 127.73L198.56 119.84"/>
<path stroke="#b91f1f" d="M417.94 69.36L407.22 65.59M166.39 104.46L180.37 122.84M166.39 104.46L155.68 100.69"/>
<path stroke="#ab1f1f" d="M407.22 65.59L396.50 62.15M396.50 62.15L385.78 58.93M155.68 100.69L169.65 116.91M155.68 100.69L144.95 97.25M144.95 97.25L158.93 111.53M144.95 97.25L134.24 94.03"/>
<path stroke="#9d1f1f" d="M385.78 58.93L375.06 55.88M375.06 55.88L364.34 52.95M364.34 52.95L353.62 50.10M353.62 50.10L342.90 47.31M134.24 94.03L148.21 106.59M134.24 94.03L123.51 90.98M123.51 90.98L137.49 102.02M123.51 90.98L112.80 88.05M112.80 88.05L126.77 97.76M112.80 88.05L102.07 85.20M102.07 85.20L116.05 93.75M102.07 85.20L91.35 82.41"/>
<path stroke="#8f1f1f" d="M342.90 47.31L332.18 44.58M332.18 44.58L321.46 41.88M321.46 41.88L310.74 39.21M310.74 39.21L300.02 36.57M91.35 82.41L105.33 89.94M91.35 82.41L80.63 79.68M80.63 79.68L94.61 86.31M80.63 79.68L69.91 76.98M69.91 76.98L83.89 82.82M69.91 76.98L59.19 74.31M59.19 74.31L73.17 79.46M59.19 74.31L48.47 71.67M48.47 71.67L62.45 76.20"/>
</g>
<path d="M448.7 190.8L460.4 190.1M461.8 189.2L472.7 187.6M490.2 185.6L505.5 183.9" stroke="#1f1f9d" stroke-width="1.25" fill="none"/>
<path d="M34.50 182.70L34.50 72.70M34.50 182.70L248.90 233.20M248.90 233.20L528.40 194.20M248.90 233.20L241.97 234.17M195.30 220.57L188.37 221.54M141.70 207.95L134.77 208.92M88.10 195.32L81.17 196.29M34.50 182.70L27.57 183.67M248.90 233.20L255.71 234.80M318.77 223.45L325.59 225.05M388.65 213.70L395.46 215.30M458.52 203.95L465.34 205.55M528.40 194.20L535.21 195.80M34.50 182.70L27.69 181.10M34.50 127.70L27.69 126.10M34.50 72.70L27.69 71.10" stroke="#000" stroke-width="1.1" fill="none"/>
<path d="M529.00 310.60V509.50" stroke="#4a4a4a" stroke-width="1.3" fill="none"/>
<path d="M528.70 310.60H34.50V509.50H529.60" stroke="#1a1a1a" stroke-width="1.1" fill="none"/>
<path d="M83.92 509.50V504.50M83.92 310.60V315.60M133.34 509.50V504.50M133.34 310.60V315.60M182.76 509.50V504.50M182.76 310.60V315.60M232.18 509.50V504.50M232.18 310.60V315.60M281.60 509.50V504.50M281.60 310.60V315.60M331.02 509.50V504.50M331.02 310.60V315.60M380.44 509.50V504.50M380.44 310.60V315.60M429.86 509.50V504.50M429.86 310.60V315.60M479.28 509.50V504.50M479.28 310.60V315.60M34.50 509.50H39.50M528.70 509.50H523.70M34.50 469.72H39.50M528.70 469.72H523.70M34.50 429.94H39.50M528.70 429.94H523.70M34.50 390.16H39.50M528.70 390.16H523.70M34.50 350.38H39.50M528.70 350.38H523.70M34.50 310.60H39.50M528.70 310.60H523.70" stroke="#000" stroke-width="1.1" fill="none"/>
<path d="M34.50 498.96L59.21 496.77L83.92 489.61L108.63 481.85L133.34 469.72L158.05 455.00L182.76 439.88L207.47 422.78L232.18 407.07L256.89 388.97L281.60 372.66L306.31 357.94L331.02 345.81L355.73 334.87L380.44 328.10L405.15 322.14L429.86 317.76L454.57 314.98L479.28 313.38L503.99 312.19L528.70 311.40" stroke="#0000ff" stroke-width="1.1" fill="none"/>
<text class="tk" id="z1" transform="translate(20.45 74.90) scale(0.890 1)" text-anchor="middle">1</text><text class="tk" id="z05" transform="translate(16.65 129.90) scale(0.890 1)" text-anchor="middle">0.5</text><text class="tk" id="z0" transform="translate(20.95 185.20) scale(0.890 1)" text-anchor="middle">0</text><text class="tk" id="c20" transform="translate(18.00 197.00) scale(0.890 1)" text-anchor="middle">20</text><text class="tk" id="c15" transform="translate(72.20 210.10) scale(0.890 1)" text-anchor="middle">15</text><text class="tk" id="c10" transform="translate(125.40 221.70) scale(0.890 1)" text-anchor="middle">10</text><text class="tk" id="c5" transform="translate(182.45 234.80) scale(0.890 1)" text-anchor="middle">5</text><text class="tk" id="c0" transform="translate(235.30 247.50) scale(0.890 1)" text-anchor="middle">0</text><text class="tk" id="rm1" transform="translate(264.75 248.00) scale(0.890 1)" text-anchor="middle">&#8722;1</text><text class="tk" id="rm05" transform="translate(339.40 239.10) scale(0.890 1)" text-anchor="middle">&#8722;0.5</text><text class="tk" id="r0" transform="translate(402.15 228.40) scale(0.890 1)" text-anchor="middle">0</text><text class="tk" id="r05" transform="translate(476.60 219.60) scale(0.890 1)" text-anchor="middle">0.5</text><text class="tk" id="r1" transform="translate(541.20 209.00) scale(0.890 1)" text-anchor="middle">1</text><text class="tk" id="y0" transform="translate(27.95 515.10) scale(0.890 1)" text-anchor="middle">0</text><text class="tk" id="y02" transform="translate(23.80 475.10) scale(0.890 1)" text-anchor="middle">0.2</text><text class="tk" id="y04" transform="translate(23.80 434.70) scale(0.890 1)" text-anchor="middle">0.4</text><text class="tk" id="y06" transform="translate(23.80 395.30) scale(0.890 1)" text-anchor="middle">0.6</text><text class="tk" id="y08" transform="translate(23.45 355.50) scale(0.890 1)" text-anchor="middle">0.8</text><text class="tk" id="y1" transform="translate(27.55 315.20) scale(0.890 1)" text-anchor="middle">1</text><text class="tk" id="x0" transform="translate(34.50 526.10) scale(0.890 1)" text-anchor="middle">0</text><text class="tk" id="x2" transform="translate(83.76 526.10) scale(0.890 1)" text-anchor="middle">2</text><text class="tk" id="x4" transform="translate(133.02 526.10) scale(0.890 1)" text-anchor="middle">4</text><text class="tk" id="x6" transform="translate(182.28 526.10) scale(0.890 1)" text-anchor="middle">6</text><text class="tk" id="x8" transform="translate(232.54 526.10) scale(0.890 1)" text-anchor="middle">8</text><text class="tk" id="x10" transform="translate(281.30 526.10) scale(0.890 1)" text-anchor="middle">10</text><text class="tk" id="x12" transform="translate(331.06 526.10) scale(0.890 1)" text-anchor="middle">12</text><text class="tk" id="x14" transform="translate(380.32 526.10) scale(0.890 1)" text-anchor="middle">14</text><text class="tk" id="x16" transform="translate(429.58 526.10) scale(0.890 1)" text-anchor="middle">16</text><text class="tk" id="x18" transform="translate(478.84 526.10) scale(0.890 1)" text-anchor="middle">18</text><text class="tk" id="x20" transform="translate(528.60 526.10) scale(0.890 1)" text-anchor="middle">20</text><text class="ti" id="t1a" transform="translate(252.85 23.80) scale(0.912 1)" text-anchor="middle">10%</text><text class="ti" id="t1b" transform="translate(281.55 23.20) scale(0.995 1)" text-anchor="middle">test</text><text class="ti" id="t1c" transform="translate(304.05 23.20) scale(1.007 1)" text-anchor="middle">on</text><text class="ti it" id="t1d" transform="translate(319.65 24.60) scale(1.013 1)" text-anchor="middle">&#946;</text><text class="ti" id="t2a" transform="translate(244.15 302.50) scale(0.911 1)" text-anchor="middle">5%</text><text class="ti" id="t2b" transform="translate(269.10 302.80) scale(0.990 1)" text-anchor="middle">test</text><text class="ti" id="t2c" transform="translate(291.05 302.80) scale(0.950 1)" text-anchor="middle">on</text><text class="ti" id="t2d" transform="translate(315.85 302.80) scale(0.944 1)" text-anchor="middle">rank</text><text class="lb" id="lc" transform="translate(145.80 261.30) scale(0.967 1)" text-anchor="middle">c</text><text class="lb" id="lr" transform="translate(370.20 264.30) scale(0.825 1)" text-anchor="middle">&#961;</text><text class="lb" id="lc2" transform="translate(281.80 539.30) scale(1.000 1)" text-anchor="middle">c</text>
</svg>
</body></html>
